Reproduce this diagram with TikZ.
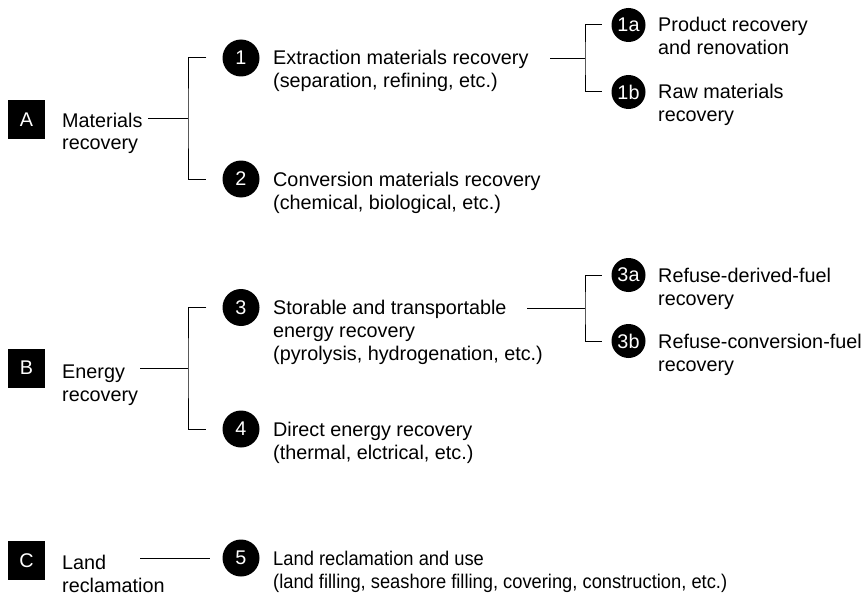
\documentclass[tikz,border=0pt]{standalone}
\usepackage{fontspec}
\setmainfont{Liberation Sans}
\newcommand{\diagfont}{\fontsize{19.8}{23}\selectfont}
% multi-line label whose baseline is that of its first line
\newcommand{\txtlines}[1]{\begin{tabular}[t]{@{}l@{}}#1\end{tabular}}
\begin{document}
\begin{tikzpicture}[x=1pt,y=-1pt,
  txt/.style={anchor=base west, inner sep=0pt, font=\diagfont},
  catbox/.style={fill=black, text=white, minimum width=37pt, minimum height=39pt, inner sep=0pt, font=\diagfont},
  bignum/.style={circle, fill=black, text=white, minimum size=37pt, inner sep=0pt, font=\diagfont},
  subnum/.style={circle, fill=black, text=white, minimum size=34pt, inner sep=0pt, font=\diagfont},
  link/.style={line width=1pt, draw=black}]
\useasboundingbox (0,0) rectangle (868,594);

% category boxes and labels
\node[catbox] (boxA) at (26.5,119.5) {A};
\node[catbox] (boxB) at (26.5,368) {B};
\node[catbox] (boxC) at (26.5,560.5) {C};
\node[txt] (labA) at (62,127) {\txtlines{Materials\\recovery}};
\node[txt] (labB) at (62,378) {\txtlines{Energy\\recovery}};
\node[txt] (labC) at (62,569) {\txtlines{Land\\reclamation}};

% numbered processes
\node[bignum] (n1) at (241,58) {1};
\node[bignum] (n2) at (241,179) {2};
\node[bignum] (n3) at (241,307.5) {3};
\node[bignum] (n4) at (241,429) {4};
\node[bignum] (n5) at (241,558) {5};
\node[txt] (t1) at (273,65) {\txtlines{Extraction materials recovery\\(separation, refining, etc.)}};
\node[txt] (t2) at (273,186) {\txtlines{Conversion materials recovery\\(chemical, biological, etc.)}};
\node[txt] (t3) at (273,314.5) {\txtlines{Storable and transportable\\energy recovery\\(pyrolysis, hydrogenation, etc.)}};
\node[txt] (t4) at (273,436) {\txtlines{Direct energy recovery\\(thermal, elctrical, etc.)}};
\node[txt] (t5) at (273,565) {\scalebox{0.925}[1]{\txtlines{Land reclamation and use\\(land filling, seashore filling, covering, construction, etc.)}}};

% sub-processes
\node[subnum] (n1a) at (628.5,25) {1a};
\node[subnum] (n1b) at (628.5,92) {1b};
\node[subnum] (n3a) at (628.5,275) {3a};
\node[subnum] (n3b) at (628.5,341) {3b};
\node[txt] (t1a) at (658,32) {\txtlines{Product recovery\\and renovation}};
\node[txt] (t1b) at (658,99) {\txtlines{Raw materials\\recovery}};
\node[txt] (t3a) at (658,282) {\txtlines{Refuse-derived-fuel\\recovery}};
\node[txt] (t3b) at (658,348) {\txtlines{Refuse-conversion-fuel\\recovery}};

% connector start points and junctions
\coordinate (sA) at (148,118.5);
\coordinate (jA) at (188,118.5);
\coordinate (sB) at (140,368);
\coordinate (jB) at (188,368);
\coordinate (sC) at (140,558);
\coordinate (s1) at (550,59);
\coordinate (j1) at (585,59);
\coordinate (s3) at (527,308);
\coordinate (j3) at (585,308);

% brackets
\draw[link] (sA) -- (jA);
\draw[link] ([xshift=-16pt]n1.west) -| (jA) |- ([xshift=-16pt]n2.west);
\draw[link] (sB) -- (jB);
\draw[link] ([xshift=-16pt]n3.west) -| (jB) |- ([xshift=-16pt]n4.west);
\draw[link] (sC) -- ([xshift=-12.5pt]n5.west);
\draw[link] (s1) -- (j1);
\draw[link] ([xshift=-9.5pt]n1a.west) -| (j1) |- ([xshift=-9.5pt]n1b.west);
\draw[link] (s3) -- (j3);
\draw[link] ([xshift=-9.5pt]n3a.west) -| (j3) |- ([xshift=-9.5pt]n3b.west);
\end{tikzpicture}
\end{document}
